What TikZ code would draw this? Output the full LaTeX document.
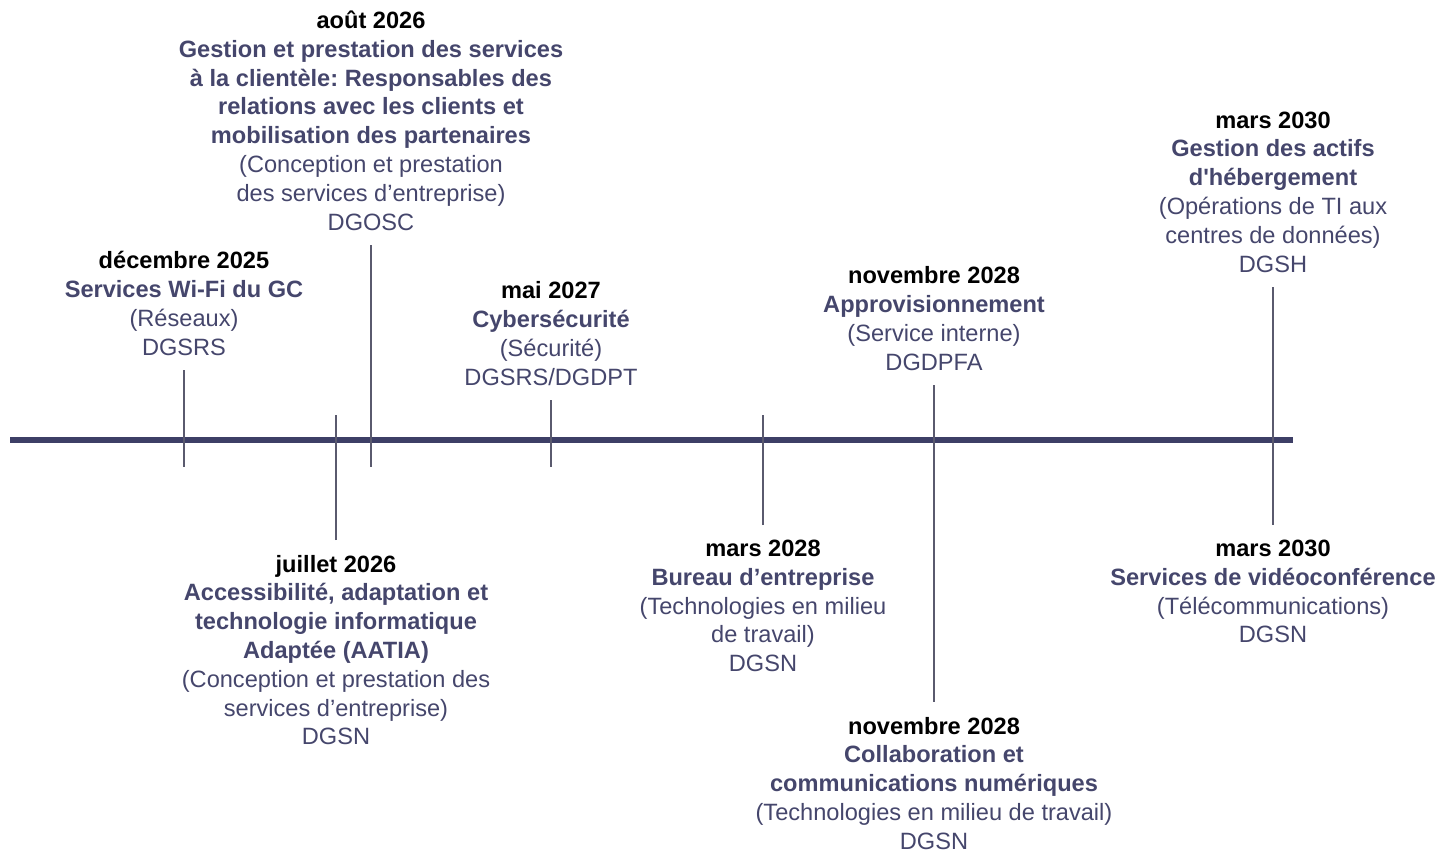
\documentclass[tikz,border=0pt]{standalone}
\usepackage{fontspec}
\setmainfont{Liberation Sans}
\usepackage{tikz}
\frenchspacing

\definecolor{navy}{HTML}{45466C}
\definecolor{linecol}{HTML}{3D3F66}
\definecolor{tickcol}{HTML}{5A5A6E}
\newcommand{\evdate}[1]{\textcolor{black}{\textbf{#1}}}

\begin{document}
\begin{tikzpicture}[x=0.5pt,y=-0.5pt]
\tikzstyle{event} = [align=center, text=navy, inner sep=0pt, outer sep=7.5pt, text depth=0pt, font=\fontsize{11.8pt}{14.4pt}\selectfont]
\tikzstyle{above} = [event, anchor=south]
\tikzstyle{below} = [event, anchor=north]
\tikzstyle{axis} = [linecol, line width=2.6pt]
\tikzstyle{tick} = [tickcol, line width=0.6pt]
\useasboundingbox (0,0) rectangle (1440,852);
% timeline
\coordinate (start) at (10,440);
\coordinate (end) at (1293,440);
\draw[axis] (start) -- (end);
% events above the line
\node[above] (dec25) at (184,370) {\evdate{décembre 2025}\\ \textbf{Services Wi-Fi du GC}\\ (Réseaux)\\ DGSRS};
\node[above] (aug26) at (371,245) {\evdate{août 2026}\\ \textbf{Gestion et prestation des services}\\ \textbf{à la clientèle: Responsables des}\\ \textbf{relations avec les clients et}\\ \textbf{mobilisation des partenaires}\\ (Conception et prestation\\ des services d’entreprise)\\ DGOSC};
\node[above] (may27) at (551,400) {\evdate{mai 2027}\\ \textbf{Cybersécurité}\\ (Sécurité)\\ DGSRS/DGDPT};
\node[above] (nov28a) at (934,385) {\evdate{novembre 2028}\\ \textbf{Approvisionnement}\\ (Service interne)\\ DGDPFA};
\node[above] (mar30a) at (1273,287) {\evdate{mars 2030}\\ \textbf{Gestion des actifs}\\ \textbf{d\textquotesingle hébergement}\\ (Opérations de TI aux\\ centres de données)\\ DGSH};
% events below the line
\node[below] (jul26) at (336,540) {\evdate{juillet 2026}\\ \textbf{Accessibilité, adaptation et}\\ \textbf{technologie informatique}\\ \textbf{Adaptée (AATIA)}\\ (Conception et prestation des\\ services d’entreprise)\\ DGSN};
\node[below] (mar28) at (763,525) {\evdate{mars 2028}\\ \textbf{Bureau d’entreprise}\\ (Technologies en milieu\\ de travail)\\ DGSN};
\node[below] (nov28b) at (934,702) {\evdate{novembre 2028}\\ \textbf{Collaboration et}\\ \textbf{communications numériques}\\ (Technologies en milieu de travail)\\ DGSN};
\node[below] (mar30b) at (1273,525) {\evdate{mars 2030}\\ \textbf{Services de vidéoconférence}\\ (Télécommunications)\\ DGSN};
% tick ends
\coordinate (dec25end) at (184,467);
\coordinate (aug26end) at (371,467);
\coordinate (may27end) at (551,467);
\coordinate (jul26end) at (336,415);
\coordinate (mar28end) at (763,415);
% ticks
\draw[tick] (dec25) -- (dec25end);
\draw[tick] (aug26) -- (aug26end);
\draw[tick] (may27) -- (may27end);
\draw[tick] (nov28a) -- (nov28b);
\draw[tick] (mar30a) -- (mar30b);
\draw[tick] (jul26) -- (jul26end);
\draw[tick] (mar28) -- (mar28end);
\end{tikzpicture}
\end{document}
